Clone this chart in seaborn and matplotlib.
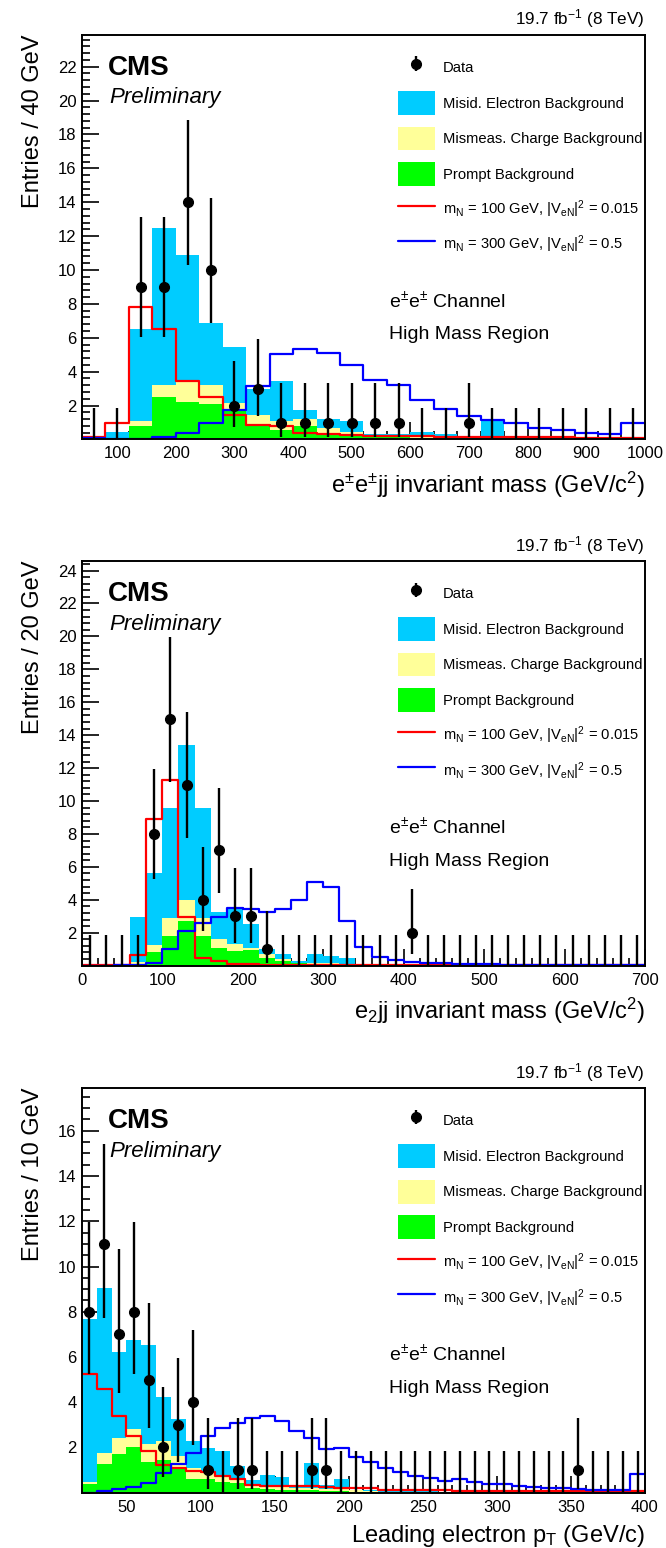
import numpy as np
import pandas as pd
import seaborn as sns
import matplotlib.pyplot as plt
from matplotlib.ticker import MultipleLocator, FixedLocator
from matplotlib.patches import Patch
from matplotlib.lines import Line2D

sns.set_style('ticks')
plt.rcParams['font.family'] = ['Liberation Sans', 'DejaVu Sans']
plt.rcParams['mathtext.fontset'] = 'custom'
plt.rcParams['mathtext.rm'] = 'Liberation Sans'
plt.rcParams['mathtext.it'] = 'Liberation Sans:italic'
plt.rcParams['mathtext.bf'] = 'Liberation Sans:bold'
plt.rcParams['mathtext.default'] = 'regular'
plt.rcParams['text.color'] = 'black'
plt.rcParams['axes.labelcolor'] = 'black'
plt.rcParams['xtick.color'] = 'black'
plt.rcParams['ytick.color'] = 'black'
plt.rcParams['axes.unicode_minus'] = False

bkg_names = ['Misid. Electron Background', 'Mismeas. Charge Background', 'Prompt Background']
bkg_colors = ['#00ccff', '#ffff99', '#00ff00']
sig_names = [r'm$_N$ = 100 GeV, |V$_{eN}$|$^2$ = 0.015', r'm$_N$ = 300 GeV, |V$_{eN}$|$^2$ = 0.5']

# panel 1: e+-e+-jj invariant mass, 40 GeV bins from 40 to 1000
p1_data = [0, 0, 9, 9, 14, 10, 2, 3, 1, 1, 1, 1, 1, 1, 0, 0, 1, 0, 0, 0, 0, 0, 0, 0]
p1_misid = [0.05, 0.47, 5.43, 9.24, 7.53, 3.67, 3.30, 1.54, 2.36, 0.52, 0.52, 0.65,
            0.05, 0.10, 0.32, 0.22, 0.0, 1.08, 0.0, 0.0, 0.0, 0.0, 0.0, 0.0]
p1_charge = [0, 0, 0.27, 0.75, 1.17, 1.13, 0.35, 0.59, 0.50, 0.40, 0.33, 0.27,
             0.10, 0.08, 0.05, 0.04, 0.04, 0.03, 0.02, 0.02, 0.01, 0.01, 0.01, 0.01]
p1_prompt = [0, 0, 0.80, 2.48, 2.20, 2.10, 1.80, 0.87, 0.57, 0.80, 0.37, 0.20,
             0.15, 0.12, 0.10, 0.08, 0.06, 0.05, 0.04, 0.03, 0.03, 0.02, 0.02, 0.02]
p1_sig100 = [0.14, 1.0, 7.83, 6.5, 3.43, 2.48, 1.46, 0.87, 0.77, 0.37, 0.30, 0.25,
             0.22, 0.20, 0.18, 0.17, 0.15, 0.14, 0.13, 0.12, 0.12, 0.11, 0.11, 0.11]
p1_sig300 = [0.08, 0.05, 0.05, 0.17, 0.40, 1.0, 1.75, 3.18, 5.07, 5.35, 5.10, 4.38,
             3.49, 3.20, 2.35, 1.81, 1.40, 1.16, 0.97, 0.69, 0.57, 0.37, 0.34, 1.0]

# panel 2: e2jj invariant mass, 20 GeV bins from 0 to 700
p2_data = [0, 0, 0, 0, 8, 15, 11, 4, 7, 3, 3, 1, 0, 0, 0, 0, 0, 0, 0, 0, 2,
           0, 0, 0, 0, 0, 0, 0, 0, 0, 0, 0, 0, 0, 0]
p2_misid = [0, 0, 0, 2.76, 4.39, 6.66, 9.43, 6.66, 1.64, 2.15, 1.48, 0.31, 0.30, 0.11,
            0.54, 0.44, 0.37, 0.02, 0.02, 0.02, 0, 0, 0, 0, 0, 0, 0, 0, 0, 0, 0, 0, 0, 0, 0]
p2_charge = [0, 0, 0, 0.10, 0.46, 1.10, 1.27, 1.10, 0.50, 0.44, 0.10, 0.20, 0.10, 0.03,
             0.05, 0.05, 0.04, 0.03, 0.02, 0.02, 0.01, 0.01, 0.01, 0.01, 0.01, 0.01, 0.01,
             0.01, 0.01, 0.01, 0.01, 0.01, 0.01, 0.01, 0.01]
p2_prompt = [0, 0, 0, 0.12, 0.80, 1.80, 2.73, 1.80, 1.10, 0.86, 0.95, 0.49, 0.29, 0.15,
             0.10, 0.10, 0.08, 0.05, 0.03, 0.03, 0.02, 0.02, 0.02, 0.01, 0.01, 0.01, 0.01,
             0.01, 0.01, 0.01, 0.01, 0.01, 0.01, 0.01, 0.01]
p2_sig100 = [0.01, 0.01, 0.02, 0.63, 8.9, 11.3, 2.94, 0.49, 0.29, 0.12, 0.08, 0.06, 0.05,
             0.05, 0.04, 0.04, 0.03, 0.03, 0.03, 0.03, 0.02, 0.02, 0.02, 0.02, 0.02, 0.02,
             0.02, 0.02, 0.02, 0.02, 0.02, 0.02, 0.02, 0.02, 0.02]
p2_sig300 = [0.0, 0.0, 0.02, 0.03, 0.18, 1.0, 2.12, 2.57, 2.98, 3.5, 3.45, 3.24, 3.45,
             4.0, 5.08, 4.77, 2.71, 1.12, 0.55, 0.35, 0.24, 0.18, 0.14, 0.10, 0.08, 0.07,
             0.06, 0.05, 0.05, 0.04, 0.04, 0.03, 0.03, 0.03, 0.03]

# panel 3: leading electron pT, 10 GeV bins from 20 to 400
p3_data = [8, 11, 7, 8, 5, 2, 3, 4, 1, 0, 1, 1, 0, 0, 0, 1, 1, 0, 0, 0, 0, 0, 0, 0, 0,
           0, 0, 0, 0, 0, 0, 0, 0, 1, 0, 0, 0, 0]
p3_misid = [7.21, 7.33, 3.79, 3.95, 4.40, 1.92, 1.64, 1.19, 1.01, 1.10, 0.60, 0.23, 0.48,
            0.43, 0.12, 1.12, 0.18, 0.45, 0.04, 0.02, 0.02, 0.01, 0.01, 0.01, 0, 0, 0, 0,
            0, 0, 0, 0, 0, 0, 0, 0, 0, 0]
p3_charge = [0.11, 0.48, 0.73, 0.78, 0.80, 0.84, 0.52, 0.50, 0.38, 0.25, 0.15, 0.15, 0.15,
             0.13, 0.08, 0.10, 0.07, 0.07, 0.05, 0.03, 0.02, 0.02, 0.02, 0.02, 0.02, 0.02,
             0.01, 0.01, 0.01, 0.01, 0.01, 0.01, 0.01, 0.01, 0.01, 0.01, 0.01, 0.01]
p3_prompt = [0.38, 1.26, 1.71, 2.04, 1.34, 1.45, 1.10, 0.60, 0.59, 0.49, 0.41, 0.19, 0.15,
             0.12, 0.12, 0.10, 0.08, 0.08, 0.05, 0.05, 0.03, 0.03, 0.03, 0.03, 0.03, 0.03,
             0.02, 0.02, 0.02, 0.02, 0.02, 0.02, 0.02, 0.02, 0.02, 0.02, 0.02, 0.02]
p3_sig100 = [5.24, 4.58, 3.40, 2.51, 1.86, 1.23, 1.10, 0.97, 0.90, 0.75, 0.60, 0.35, 0.31,
             0.31, 0.30, 0.30, 0.25, 0.20, 0.19, 0.19, 0.12, 0.11, 0.10, 0.10, 0.10, 0.09,
             0.09, 0.09, 0.08, 0.08, 0.08, 0.08, 0.07, 0.07, 0.07, 0.07, 0.07, 0.07]
p3_sig300 = [0.0, 0.09, 0.15, 0.24, 0.41, 0.89, 1.27, 1.74, 2.51, 2.88, 3.07, 3.29, 3.40,
             3.19, 2.73, 2.44, 1.94, 1.99, 1.60, 1.37, 1.11, 0.93, 0.74, 0.66, 0.53, 0.59,
             0.46, 0.38, 0.37, 0.31, 0.27, 0.22, 0.19, 0.15, 0.12, 0.12, 0.12, 0.83]


def draw_panel(ax, lo, hi, width, data, misid, charge, prompt, sig100, sig300,
               ymax, ylabel, xlabel, xmajor, xminor, yminor):
    edges = np.arange(lo, hi + width / 2, width)
    centers = edges[:-1] + width / 2
    bins = edges.tolist()

    stack = pd.DataFrame({
        'x': np.tile(centers, 3),
        'w': np.concatenate([misid, charge, prompt]),
        'bkg': np.repeat(bkg_names, len(centers)),
    })
    sns.histplot(data=stack, x='x', weights='w', hue='bkg', hue_order=bkg_names,
                 bins=bins, multiple='stack', element='step', fill=True,
                 palette=bkg_colors, alpha=1, linewidth=0, legend=False, ax=ax)
    for vals, col in ((sig100, '#ff0000'), (sig300, '#0000ff')):
        sig = pd.DataFrame({'x': centers, 'w': vals})
        sns.histplot(data=sig, x='x', weights='w', bins=bins, element='step', fill=False,
                     color=col, linewidth=1.6, ax=ax)

    # data with poisson (Gehrels) intervals
    n = np.asarray(data, float)
    nz = n > 0
    up = n + 1 + np.sqrt(n + 0.75)
    low = np.zeros_like(n)
    low[nz] = n[nz] * (1 - 1 / (9 * n[nz]) - 1 / (3 * np.sqrt(n[nz]))) ** 3
    data_handle = ax.errorbar(centers[nz], n[nz], yerr=[n[nz] - low[nz], up[nz] - n[nz]],
                              fmt='o', color='black', ms=7, elinewidth=1.7, capsize=0,
                              zorder=5)
    ax.vlines(centers[~nz], 0, up[~nz], color='black', lw=1.7, zorder=5)

    ax.set_xlim(lo, hi)
    ax.set_ylim(0, ymax)
    ax.xaxis.set_major_locator(MultipleLocator(xmajor))
    ax.xaxis.set_minor_locator(MultipleLocator(xminor))
    ax.yaxis.set_major_locator(FixedLocator(np.arange(2, ymax, 2)))
    ax.yaxis.set_minor_locator(MultipleLocator(yminor))
    ax.tick_params(which='both', direction='in', top=False, right=False,
                   labelsize=12, width=1.2, color='black', labelcolor='black')
    ax.tick_params(which='major', length=12)
    ax.tick_params(which='minor', length=6)
    ax.tick_params(axis='x', pad=5)
    ax.tick_params(axis='y', pad=4)
    for s in ax.spines.values():
        s.set_linewidth(1.4)
        s.set_color('black')

    ax.set_ylabel(ylabel, fontsize=17, loc='top')
    ax.yaxis.set_label_coords(-0.068, 1.0)
    ax.set_xlabel(xlabel, fontsize=17, loc='right')
    ax.xaxis.set_label_coords(1.0, -0.075)

    ax.text(0.046, 0.901, 'CMS', fontsize=20, fontweight='bold', transform=ax.transAxes)
    ax.text(0.048, 0.830, 'Preliminary', fontsize=16, style='italic', transform=ax.transAxes)
    ax.text(1.0, 1.024, r'19.7 fb$^{-1}$ (8 TeV)', ha='right', fontsize=12.3,
            transform=ax.transAxes)
    ax.text(0.545, 0.326, r'e$^{\pm}$e$^{\pm}$ Channel', fontsize=14, transform=ax.transAxes)
    ax.text(0.545, 0.247, 'High Mass Region', fontsize=14, transform=ax.transAxes)

    handles = [data_handle] + [Patch(facecolor=c, edgecolor='none') for c in bkg_colors] + \
              [Line2D([], [], color='#ff0000', lw=1.6), Line2D([], [], color='#0000ff', lw=1.6)]
    labels = ['Data'] + bkg_names + sig_names
    ax.legend(handles, labels, loc='upper left', bbox_to_anchor=(0.561, 0.948),
              frameon=False, fontsize=10.6, handlelength=2.5, handleheight=2.1,
              labelspacing=0.8, handletextpad=0.55, borderpad=0, borderaxespad=0,
              labelcolor='black')


fig = plt.figure(figsize=(6.66, 15.48), dpi=100)
fig.patch.set_facecolor('white')
ax1 = fig.add_axes([0.1231, 0.7161, 0.8453, 0.2616])
ax2 = fig.add_axes([0.1231, 0.3762, 0.8453, 0.2616])
ax3 = fig.add_axes([0.1231, 0.0357, 0.8453, 0.2616])

draw_panel(ax1, 40, 1000, 40, p1_data, p1_misid, p1_charge, p1_prompt, p1_sig100, p1_sig300,
           23.9, 'Entries / 40 GeV', r'e$^{\pm}$e$^{\pm}$jj invariant mass (GeV/c$^2$)',
           100, 20, 0.4)
draw_panel(ax2, 0, 700, 20, p2_data, p2_misid, p2_charge, p2_prompt, p2_sig100, p2_sig300,
           24.6, 'Entries / 20 GeV', r'e$_2$jj invariant mass (GeV/c$^2$)',
           100, 20, 0.4)
draw_panel(ax3, 20, 400, 10, p3_data, p3_misid, p3_charge, p3_prompt, p3_sig100, p3_sig300,
           17.9, 'Entries / 10 GeV', r'Leading electron p$_T$ (GeV/c)',
           50, 10, 0.5)

fig.savefig('out.png', dpi=100, facecolor='white')
